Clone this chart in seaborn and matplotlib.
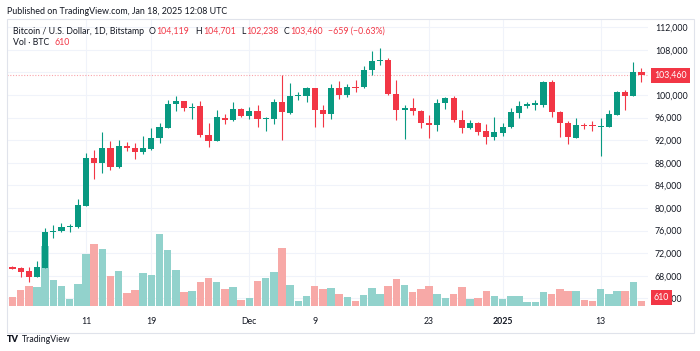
import pandas as pd
import matplotlib.pyplot as plt
import matplotlib.transforms as mtransforms
from matplotlib.patches import Rectangle
import seaborn as sns
import numpy as np

# BTC/USD daily candles, Bitstamp, 2 Nov 2024 - 18 Jan 2025
dates = pd.date_range("2024-11-02", "2025-01-18", freq="D")

opens = [69500, 69330, 68850, 67840, 69430, 75700, 75990, 76580, 76690, 80410,
         88800, 88020, 90560, 87200, 91030, 90620, 89860, 90500, 92440, 94210,
         98350, 98940, 97640, 98050, 92970, 91860, 95930, 95580, 97520, 96340,
         97220, 95800, 95800, 98760, 96870, 99830, 99880, 101190, 97340, 96580,
         101190, 99950, 101420, 101360, 104370, 106070, 106190, 100120, 97400, 97750,
         97220, 95100, 94640, 98580, 99410, 95630, 94100, 95100, 93630, 92560,
         93280, 94280, 96870, 98050, 98230, 98230, 102250, 96930, 94990, 92440,
         94690, 94640, 94330, 94390, 96460, 100530, 99880, 104119]
highs = [69790, 69610, 69500, 70620, 76510, 76990, 77340, 77110, 81540, 89680,
         90270, 93510, 91860, 91980, 91680, 91500, 92690, 94100, 94990, 99120,
         99820, 99000, 98640, 98940, 95100, 97340, 96640, 98760, 97640, 97820,
         98180, 96160, 99290, 103590, 102070, 100530, 101470, 101300, 98230, 101950,
         102530, 101950, 102660, 105130, 107790, 108320, 106500, 102710, 98180, 99410,
         97300, 96460, 99350, 99700, 99880, 97340, 95580, 95200, 94810, 96100,
         94990, 97640, 98940, 98820, 99120, 102420, 102660, 97220, 95340, 95870,
         95100, 95400, 95870, 97340, 100710, 100890, 105890, 104701]
lows = [69150, 67730, 66960, 67730, 69330, 74640, 75700, 75700, 76500, 80300,
        85190, 86250, 86730, 87000, 90140, 88730, 89500, 90300, 91560, 94100,
        97220, 97220, 95800, 92560, 90740, 91800, 94810, 95400, 96170, 95750,
        94390, 93630, 94810, 92030, 96580, 99060, 98820, 94390, 94390, 95750,
        99290, 99700, 100530, 101200, 103490, 105360, 100000, 95520, 92160, 96460,
        94160, 92390, 93570, 97580, 95160, 93270, 94000, 92870, 91380, 91980,
        92800, 94100, 95980, 97640, 97340, 97930, 96160, 92510, 91270, 92300,
        93980, 93630, 89200, 94300, 96400, 97340, 99800, 102238]
closes = [69260, 68730, 67840, 69500, 75700, 75990, 76580, 76870, 80530, 88800,
          88020, 90560, 87310, 91030, 90560, 89860, 90560, 92440, 94390, 98460,
          98940, 97640, 97930, 92970, 91860, 96050, 95520, 97520, 96340, 97220,
          95800, 95980, 98760, 96990, 99880, 100050, 101190, 97340, 96580, 101190,
          100050, 101360, 101300, 104370, 106070, 106190, 100120, 97290, 97750, 97170,
          95040, 94640, 98580, 99410, 95630, 94100, 95100, 93500, 92560, 93400,
          94390, 96930, 98110, 98400, 98530, 102250, 96930, 95100, 92560, 94640,
          94510, 94460, 94510, 96580, 100530, 99880, 104070, 103460]
volumes = [1035, 1805, 2335, 2185, 6865, 2990, 2265, 805, 2495, 5945,
           7130, 6520, 3450, 4025, 1460, 1875, 3830, 3530, 8245, 6475,
           4175, 1575, 1690, 2725, 3255, 2725, 1955, 2185, 655, 885,
           2910, 3185, 3910, 6635, 2380, 610, 1115, 2265, 1955, 2035,
           1345, 1035, 610, 1265, 2035, 1345, 2300, 3140, 2450, 1575,
           1920, 2265, 1345, 885, 1415, 2185, 805, 885, 1725, 1115,
           805, 1150, 1150, 460, 460, 1575, 1415, 1955, 1760, 1690,
           655, 575, 1955, 1415, 1690, 1690, 2795, 610]

tick_dates = ["2024-11-11", "2024-11-19", "2024-12-01", "2024-12-09",
              "2024-12-23", "2025-01-01", "2025-01-13"]
tick_labels = ["11", "19", "Dec", "9", "23", "2025", "13"]
price_ticks = list(range(64000, 112001, 4000))

last_price = 103460
last_volume = 610

GREEN = "#089981"
RED = "#F23645"
TXT = "#131722"
GRID = "#f0f3fa"
FS = 6.3

sns.set_theme(style="white")
plt.rcParams["font.family"] = ["Lato", "DejaVu Sans"]

df = pd.DataFrame({"date": dates, "open": opens, "high": highs,
                   "low": lows, "close": closes, "volume": volumes})
df["idx"] = np.arange(len(df))
df["dir"] = np.where(df["close"] >= df["open"], "up", "down")

W, H = 700, 351
fig = plt.figure(figsize=(7, 3.51), dpi=100)
rect = [7 / W, 1 - 306 / H, 641 / W, 287 / H]
ax_vol = fig.add_axes(rect)
ax = fig.add_axes(rect)
ax.patch.set_visible(False)

xlim = (-0.67, 77.8)
ylim = (62650, 113450)
vol_top = 33000

# volume pane
sns.barplot(data=df, x="idx", y="volume", hue="dir",
            palette={"up": "#92d2cc", "down": "#f7a9a7"},
            dodge=False, width=0.92, saturation=1, legend=False,
            linewidth=0, ax=ax_vol)
ax_vol.set_xlim(xlim)
ax_vol.set_ylim(0, vol_top)
tick_idx = [int(np.where(df["date"] == pd.Timestamp(d))[0][0]) for d in tick_dates]
ax_vol.set_xticks(tick_idx)
# horizontal grid at price levels, expressed in volume units
grid_vol = [(p - ylim[0]) / (ylim[1] - ylim[0]) * vol_top for p in price_ticks]
ax_vol.set_yticks(grid_vol)
ax_vol.grid(True, color=GRID, linewidth=0.8)
ax_vol.tick_params(labelbottom=False, labelleft=False, length=0)
ax_vol.set_xlabel("")
ax_vol.set_ylabel("")
for s in ax_vol.spines.values():
    s.set_visible(False)

# candles
cols = np.where(df["dir"] == "up", GREEN, RED)
ax.vlines(df["idx"], df["low"], df["high"], colors=cols, linewidth=0.8, zorder=2)
body = np.maximum((df["close"] - df["open"]).abs(), 120)
ax.bar(df["idx"], body, bottom=np.minimum(df["open"], df["close"]),
       width=0.75, color=cols, linewidth=0, zorder=3)
ax.axhline(last_price, color=RED, linestyle=(0, (1, 1.5)), linewidth=0.8, alpha=0.45, zorder=1)

ax.set_xlim(xlim)
ax.set_ylim(ylim)
ax.set_yticks(price_ticks)
ax.set_yticklabels([f"{p:,}" for p in price_ticks])
ax.yaxis.tick_right()
ax.tick_params(axis="y", length=0, pad=5, labelsize=FS, labelcolor=TXT)
ax.set_xticks(tick_idx)
ax.set_xticklabels(tick_labels)
ax.tick_params(axis="x", length=0, pad=8, labelsize=FS, labelcolor=TXT)
ax.get_xticklabels()[5].set_fontweight("bold")
ax.grid(False)
for s in ax.spines.values():
    s.set_visible(False)

# last price / last volume labels on the scale
tr = mtransforms.blended_transform_factory(ax.transAxes, ax.transData)
ax.text(1 + 6 / 641, last_price, f"{last_price:,}", transform=tr, ha="left", va="center",
        fontsize=FS, color="white", zorder=5, clip_on=False,
        bbox=dict(boxstyle="square,pad=0.35", fc=RED, ec="none"))
trv = mtransforms.blended_transform_factory(ax_vol.transAxes, ax_vol.transData)
ax.text(1 + 6 / 641, last_volume * 1.6, f"{last_volume}", transform=trv, ha="left", va="center",
        fontsize=FS, color="white", zorder=5, clip_on=False,
        bbox=dict(boxstyle="square,pad=0.35", fc=RED, ec="none"))

# outer frame
fig.add_artist(Rectangle((7 / W, 1 - 333 / H), 687 / W, 314 / H, transform=fig.transFigure,
                         fill=False, edgecolor="#e0e3eb", linewidth=0.8))

def ftext(x, y, s, **kw):
    return fig.text(x / W, 1 - y / H, s, va="center", ha="left", **kw)

renderer = fig.canvas.get_renderer()

def chain(x, y, pieces, size):
    # lay text pieces one after another, gap in pixels after each
    for s, c, gap in pieces:
        t = ftext(x, y, s, fontsize=size, color=c)
        x = t.get_window_extent(renderer).x1 + gap

ftext(7, 11, "Published on TradingView.com, Jan 18, 2025 12:08 UTC", fontsize=6.4, color=TXT)
chain(13, 31.5, [("Bitcoin / U.S. Dollar, 1D, Bitstamp", TXT, 5),
                 ("O", TXT, 0.5), ("104,119", RED, 6.5),
                 ("H", TXT, 0.5), ("104,701", RED, 6),
                 ("L", TXT, 0.5), ("102,238", RED, 5),
                 ("C", TXT, 0.5), ("103,460", RED, 5),
                 ("\u2212659 (\u22120.63%)", RED, 0)], FS)
chain(13, 42.5, [("Vol \u00b7 BTC", TXT, 5), ("610", RED, 0)], FS)
ftext(7, 340, "TV", fontsize=6.6, color=TXT, fontweight="heavy")
ftext(22, 340, "TradingView", fontsize=6.3, color=TXT)

fig.savefig("out.png", dpi=100)
